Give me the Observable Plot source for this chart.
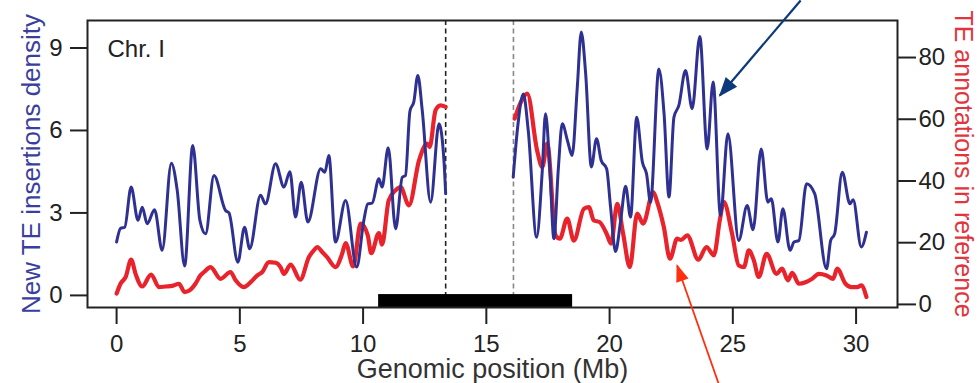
<!DOCTYPE html>
<html><head><meta charset="utf-8">
<script src="https://cdn.jsdelivr.net/npm/d3@7"></script>
<script src="https://cdn.jsdelivr.net/npm/@observablehq/plot@0.6"></script>
<style>html,body{margin:0;padding:0;background:#fff;} svg{display:block}</style>
</head><body><div id="chart"></div>
<script>
// ---- data ----
const xTicks = [0, 5, 10, 15, 20, 25, 30];
const leftTicks = [0, 3, 6, 9];
const rightTicks = [0, 20, 40, 60, 80];
const xDomain = [-1.18, 31.68];
const leftDomain = [-0.44, 10.0];
const rightDomain = [-1, 92];

// New TE insertions density (left axis), [Mb, value]
const blueLeftArm = [
  [0,1.94],[0.16,2.44],[0.33,2.48],[0.59,3.94],[0.87,2.73],[1.04,3.21],[1.24,2.61],[1.54,3.12],
  [1.85,1.64],[2.22,4.81],[2.46,3.82],[2.76,1.07],[3.09,5.45],[3.38,2.73],[3.61,2.24],[3.95,4.36],
  [4.42,3.09],[4.56,3.0],[4.92,1.21],[5.19,2.48],[5.40,1.70],[5.84,3.64],[6.04,3.33],[6.45,4.79],
  [6.79,3.94],[7.03,4.50],[7.26,2.85],[7.49,4.12],[7.76,2.67],[8.28,4.61],[8.45,4.48],[8.61,5.09],
  [8.88,1.94],[9.29,3.45],[9.74,1.03],[10.03,2.73],[10.19,3.33],[10.37,3.36],[10.64,4.24],[10.77,3.94],
  [11.02,5.37],[11.32,2.42],[11.59,4.30],[11.72,4.36],[11.90,6.70],[12.06,7.05],[12.22,8.0],[12.40,6.73],
  [12.74,3.39],[13.08,6.24],[13.28,4.91],[13.35,3.7]
];
const blueRightArm = [
  [16.09,4.3],[16.28,6.2],[16.50,7.33],[16.70,6.0],[17.04,2.12],[17.27,4.55],[17.40,6.61],[17.58,4.55],
  [17.74,2.06],[17.92,4.6],[18.08,6.24],[18.30,5.6],[18.48,5.09],[18.69,7.58],[18.85,9.58],[19.03,8.06],
  [19.26,4.67],[19.47,5.70],[19.66,4.91],[19.88,4.61],[20.04,3.21],[20.24,1.60],[20.45,2.73],[20.65,3.97],
  [20.85,2.85],[21.10,6.48],[21.33,4.85],[21.50,4.42],[21.66,3.39],[22.00,8.24],[22.21,6.61],[22.41,3.58],
  [22.61,6.48],[22.81,6.91],[23.08,8.18],[23.35,6.79],[23.66,9.42],[23.96,5.33],[24.20,7.76],[24.50,2.91],
  [24.80,5.88],[25.24,2.0],[25.58,3.27],[25.82,2.39],[26.15,5.33],[26.42,3.39],[26.56,3.52],[26.83,1.94],
  [27.03,3.15],[27.32,1.64],[27.48,1.94],[27.68,2.0],[27.99,4.06],[28.32,3.70],[28.80,0.97],[28.97,2.0],
  [29.13,2.24],[29.44,4.48],[29.75,3.33],[29.88,3.48],[30.21,1.76],[30.42,2.30]
];
// TE annotations in reference (right axis), [Mb, value]
const redLeftArm = [
  [0,3.5],[0.16,6.7],[0.37,8.9],[0.59,14.5],[0.77,9.9],[1.04,5.8],[1.40,9.7],[1.72,5.6],[1.99,5.8],
  [2.26,6.0],[2.53,6.7],[2.76,4.0],[3.00,4.8],[3.20,6.7],[3.40,9.4],[3.55,10.5],[3.81,12.1],[4.22,8.3],
  [4.62,10.5],[4.83,7.8],[5.16,5.6],[5.44,7.2],[5.71,9.4],[5.91,10.5],[6.18,13.7],[6.45,13.5],[6.65,12.1],
  [6.79,9.9],[7.06,12.9],[7.45,8.0],[7.80,15.3],[8.0,17.5],[8.14,18.6],[8.34,17.0],[8.54,15.3],[8.88,12.1],
  [9.15,16.4],[9.29,19.9],[9.60,12.3],[9.90,26.2],[10.19,22.4],[10.33,16.6],[10.64,23.1],[10.77,19.4],
  [11.04,33.7],[11.32,37.0],[11.52,38.0],[11.86,32.1],[12.27,46.7],[12.60,52.1],[12.70,51.0],
  [12.94,62.9],[13.14,64.5],[13.35,64.0]
];
const redRightArm = [
  [16.15,60.2],[16.40,65.5],[16.66,68.3],[17.06,49.9],[17.27,44.5],[17.47,52.1],[17.81,22.4],[17.98,21.3],
  [18.28,27.8],[18.55,20.7],[18.96,31.0],[19.16,31.5],[19.36,27.2],[19.59,26.7],[19.88,22.9],[20.06,19.7],
  [20.31,32.6],[20.55,22.9],[20.82,12.1],[21.12,29.4],[21.36,26.2],[21.77,36.4],[21.93,33.2],[22.20,25.1],
  [22.45,14.8],[22.74,21.3],[22.90,20.9],[23.15,22.4],[23.60,14.5],[23.93,18.6],[24.23,15.9],[24.47,27.2],
  [24.63,33.2],[24.97,22.9],[25.24,12.6],[25.45,12.1],[25.65,17.5],[25.85,14.3],[26.05,8.9],[26.37,16.4],
  [26.77,9.9],[27.00,11.6],[27.23,7.8],[27.41,10.2],[27.68,6.7],[27.95,7.2],[28.22,8.3],[28.49,9.9],
  [28.80,9.4],[29.07,8.3],[29.23,11.6],[29.57,6.7],[29.81,5.6],[30.05,5.6],[30.21,6.2],[30.42,2.4]
];
const dashBlack = [13.35];
const dashGray = [16.1];
const centromereBar = [{x1: 10.63, x2: 18.5, y1: -0.44, y2: 0.03}];
const blueArrow = [{x1: 27.75, y1: 10.73, x2: 24.47, y2: 7.27}];
const redArrow = [{x1: 24.42, y1: -3.2, x2: 22.74, y2: 1.09}];
const chrLabel = ["Chr. I"];
const xTitle = "Genomic position (Mb)";
const leftTitle = "New TE insertions density";
const rightTitle = "TE annotations in reference";

// ---- helpers ----
const toLeft = d3.scaleLinear(rightDomain, leftDomain);
const blueRows = [
  ...blueLeftArm.map(([x, v]) => ({x, v, arm: "L"})),
  ...blueRightArm.map(([x, v]) => ({x, v, arm: "R"}))
];
const redRows = [
  ...redLeftArm.map(([x, r]) => ({x, v: toLeft(r), arm: "L"})),
  ...redRightArm.map(([x, r]) => ({x, v: toLeft(r), arm: "R"}))
];

function arrow(data, color, width, headLen, headW) {
  return Plot.link(data, {
    x1: "x1", y1: "y1", x2: "x2", y2: "y2",
    stroke: color, strokeWidth: width,
    render(index, scales, values, dimensions, context, next) {
      const g = next(index, scales, values, dimensions, context);
      for (const i of index) {
        const ax = values.x1[i], ay = values.y1[i], bx = values.x2[i], by = values.y2[i];
        const a = Math.atan2(by - ay, bx - ax);
        const c = Math.cos(a), s = Math.sin(a);
        const mx = bx - headLen * c, my = by - headLen * s;
        const p = [[bx + 1.5 * c, by + 1.5 * s], [mx - headW / 2 * s, my + headW / 2 * c], [mx + headW / 2 * s, my - headW / 2 * c]];
        d3.select(g).append("path")
          .attr("d", "M" + p.map(q => q.join(",")).join("L") + "Z")
          .attr("fill", color).attr("stroke", "none");
      }
      return g;
    }
  });
}

const font = "'Liberation Sans', Arial, sans-serif";
const chart = Plot.plot({
  width: 977, height: 383,
  marginLeft: 87, marginRight: 80, marginTop: 20, marginBottom: 76,
  style: {fontFamily: font, fontSize: "24px", color: "#222", background: "#fff", overflow: "visible"},
  x: {domain: xDomain},
  y: {domain: leftDomain},
  marks: [
    Plot.ruleX(dashBlack, {stroke: "#222", strokeWidth: 1.6, strokeDasharray: "5,3.5"}),
    Plot.ruleX(dashGray, {stroke: "#888", strokeWidth: 1.6, strokeDasharray: "5,3.5"}),
    Plot.rect(centromereBar, {x1: "x1", x2: "x2", y1: "y1", y2: "y2", fill: "#000"}),
    Plot.line(redRows, {x: "x", y: "v", z: "arm", stroke: "#e8232b", strokeWidth: 4.2, curve: "monotone-x"}),
    Plot.line(blueRows, {x: "x", y: "v", z: "arm", stroke: "#2e3192", strokeWidth: 3, curve: "monotone-x"}),
    Plot.frame({stroke: "#222", strokeWidth: 2}),
    Plot.axisX({ticks: xTicks, tickSize: 17, tickPadding: 10, strokeWidth: 2, fontSize: 24, label: null, tickFormat: d3.format("d")}),
    Plot.axisY({ticks: leftTicks, tickSize: 17, tickPadding: 8, strokeWidth: 2, fontSize: 24, label: null, tickFormat: d3.format("d")}),
    Plot.axisY({anchor: "right", ticks: rightTicks.map(toLeft), tickSize: 18, tickPadding: 3, strokeWidth: 2, fontSize: 24, label: null,
      tickFormat: d => String(Math.round(toLeft.invert(d)))}),
    Plot.text(chrLabel, {frameAnchor: "top-left", dx: 20, dy: 29, textAnchor: "start", lineAnchor: "middle", fontSize: 24, fill: "#222"}),
    Plot.text([xTitle], {frameAnchor: "bottom", dy: 62, textAnchor: "middle", lineAnchor: "middle", fontSize: 27, fill: "#333"}),
    Plot.text([leftTitle], {frameAnchor: "left", dx: -56, rotate: -90, textAnchor: "middle", lineAnchor: "middle", fontSize: 26, fill: "#3a3f9e"}),
    Plot.text([rightTitle], {frameAnchor: "right", dx: 65, rotate: 90, textAnchor: "middle", lineAnchor: "middle", fontSize: 25, fill: "#e2343c"}),
    arrow(blueArrow, "#0c3a7c", 2.2, 18, 15),
    arrow(redArrow, "#ff3010", 1.8, 16, 13)
  ]
});
document.getElementById("chart").appendChild(chart);
</script>
</body></html>
